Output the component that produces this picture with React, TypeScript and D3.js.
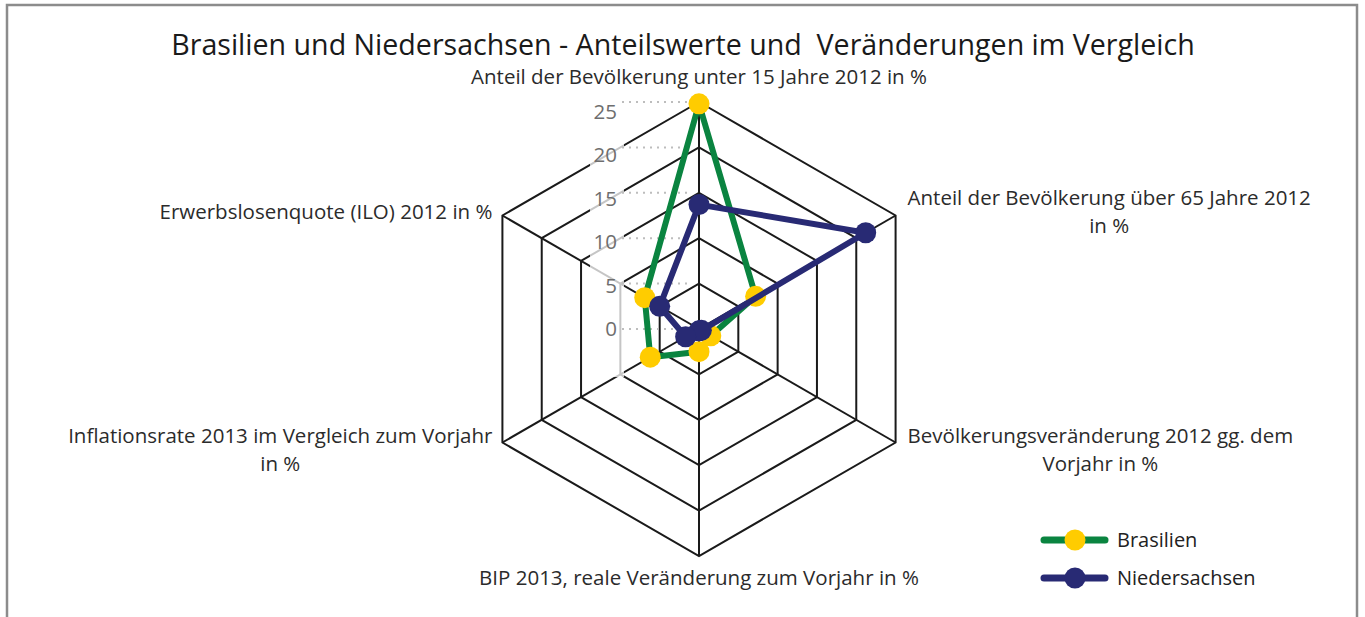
import React, { useEffect, useRef } from "react";
import * as d3 from "d3";

// axis labels, clockwise from the top
const categories: string[][] = [
  ["Anteil der Bevölkerung unter 15 Jahre 2012 in %"],
  ["Anteil der Bevölkerung über 65 Jahre 2012", "in %"],
  ["Bevölkerungsveränderung 2012 gg. dem", "Vorjahr in %"],
  ["BIP 2013, reale Veränderung zum Vorjahr in %"],
  ["Inflationsrate 2013 im Vergleich zum Vorjahr", "in %"],
  ["Erwerbslosenquote (ILO) 2012 in %"],
];

const brasilien = [24.8, 7.2, 1.5, 2.5, 6.2, 6.9];
const niedersachsen = [13.7, 21.2, 0.3, 0.2, 1.7, 5.0];

const ticks = [0, 5, 10, 15, 20, 25];

const seriesNames = ["Brasilien", "Niedersachsen"];

const title =
  "Brasilien und Niedersachsen - Anteilswerte und  Veränderungen im Vergleich";

const W = 1365;
const H = 617;
const cx = 699;
const cy = 329;
const R = 227;
const FONT = "'Open Sans', sans-serif";

export default function App() {
  const svgRef = useRef<SVGSVGElement>(null);

  useEffect(() => {
    drawChart();
  }, []);

  function drawChart() {
    const svg = d3.select(svgRef.current);
    svg.selectAll("*").remove();

    // frame
    svg
      .append("rect")
      .attr("x", 7)
      .attr("y", 5)
      .attr("width", 1350)
      .attr("height", 640)
      .attr("fill", "white")
      .attr("stroke", "#8c8c8c")
      .attr("stroke-width", 2.5);

    svg
      .append("text")
      .attr("x", 683)
      .attr("y", 55)
      .attr("text-anchor", "middle")
      .attr("font-family", FONT)
      .attr("font-size", 28.6)
      .attr("fill", "#1a1a1a")
      .style("white-space", "pre")
      .text(title);

    const n = categories.length;
    const r = d3.scaleLinear().domain([0, 25]).range([0, R]);
    const angle = (i: number) => (i * 2 * Math.PI) / n;
    const px = (i: number, v: number) => cx + r(v) * Math.sin(angle(i));
    const py = (i: number, v: number) => cy - r(v) * Math.cos(angle(i));

    const g = svg.append("g");

    // rings
    ticks
      .filter((t) => t > 0)
      .forEach((t) => {
        g.append("path")
          .attr(
            "d",
            d3
              .line<number>()
              .x((i) => px(i, t))
              .y((i) => py(i, t))(d3.range(n + 1).map((i) => i % n))
          )
          .attr("fill", "none")
          .attr("stroke", "#1a1a1a")
          .attr("stroke-width", 2);
      });

    // spokes
    d3.range(n).forEach((i) => {
      g.append("line")
        .attr("x1", cx)
        .attr("y1", cy)
        .attr("x2", px(i, 25))
        .attr("y2", py(i, 25))
        .attr("stroke", "#1a1a1a")
        .attr("stroke-width", 2);
    });

    // translucent label box of the value axis
    g.append("rect")
      .attr("x", 590)
      .attr("y", 95)
      .attr("width", 34)
      .attr("height", 282)
      .attr("fill", "white")
      .attr("opacity", 0.75);

    ticks.forEach((t) => {
      const y = py(0, t);
      g.append("line")
        .attr("x1", 622)
        .attr("x2", 692)
        .attr("y1", y)
        .attr("y2", y)
        .attr("stroke", "#bdbdbd")
        .attr("stroke-width", 2)
        .attr("stroke-dasharray", "2 5");
      g.append("text")
        .attr("x", 617)
        .attr("y", cy - t * 8.7)
        .attr("dy", "0.36em")
        .attr("text-anchor", "end")
        .attr("font-family", FONT)
        .attr("font-size", 20.5)
        .attr("fill", "#6e6e6e")
        .text(t);
    });

    // category labels
    const lineH = 28.5;
    categories.forEach((lines, i) => {
      const vx = px(i, 25);
      const vy = py(i, 25);
      const sx = Math.sin(angle(i));
      const t = g
        .append("text")
        .attr("font-family", FONT)
        .attr("font-size", 20.5)
        .attr("fill", "#2b2b2b")
        .attr("text-anchor", "middle");
      const spans = lines.map((l) => t.append("tspan").text(l));
      const widths = spans.map((s) => (s.node() as SVGTSpanElement).getComputedTextLength());
      const maxW = d3.max(widths) || 0;
      let x = vx;
      let firstY: number;
      if (Math.abs(sx) < 0.01) {
        firstY = vy < cy ? vy - 18 : vy + 29;
      } else {
        x = sx > 0 ? vx + 12 + maxW / 2 : vx - 10 - maxW / 2;
        const mid = vy < cy ? vy - 3.5 : vy + 7.5;
        firstY = mid - ((lines.length - 1) * lineH) / 2 + 7;
      }
      spans.forEach((s, k) => s.attr("x", x).attr("y", firstY + k * lineH));
    });

    // series
    const series = [
      { name: seriesNames[0], values: brasilien, line: "#0a8440", dot: "#ffcc00" },
      { name: seriesNames[1], values: niedersachsen, line: "#282a74", dot: "#282a74" },
    ];
    const radial = d3
      .line<number>()
      .x((v, i) => px(i % n, v))
      .y((v, i) => py(i % n, v));

    series.forEach((s) => {
      g.append("path")
        .attr("d", radial([...s.values, s.values[0]]))
        .attr("fill", "none")
        .attr("stroke", s.line)
        .attr("stroke-width", 6)
        .attr("stroke-linejoin", "round");
      s.values.forEach((v, i) => {
        g.append("circle")
          .attr("cx", px(i, v))
          .attr("cy", py(i, v))
          .attr("r", 10.5)
          .attr("fill", s.dot);
      });
    });

    // legend
    series.forEach((s, k) => {
      const y = 540 + k * 38;
      const lg = svg.append("g");
      lg.append("line")
        .attr("x1", 1044)
        .attr("x2", 1105)
        .attr("y1", y)
        .attr("y2", y)
        .attr("stroke", s.line)
        .attr("stroke-width", 7)
        .attr("stroke-linecap", "round");
      lg.append("circle").attr("cx", 1075).attr("cy", y).attr("r", 10.5).attr("fill", s.dot);
      lg.append("text")
        .attr("x", 1117)
        .attr("y", y + 7)
        .attr("font-family", FONT)
        .attr("font-size", 20)
        .attr("fill", "#222")
        .text(s.name);
    });
  }

  return (
    <svg
      ref={svgRef}
      width={W}
      height={H}
      style={{ position: "absolute", left: 0, top: 0, background: "white" }}
    />
  );
}
